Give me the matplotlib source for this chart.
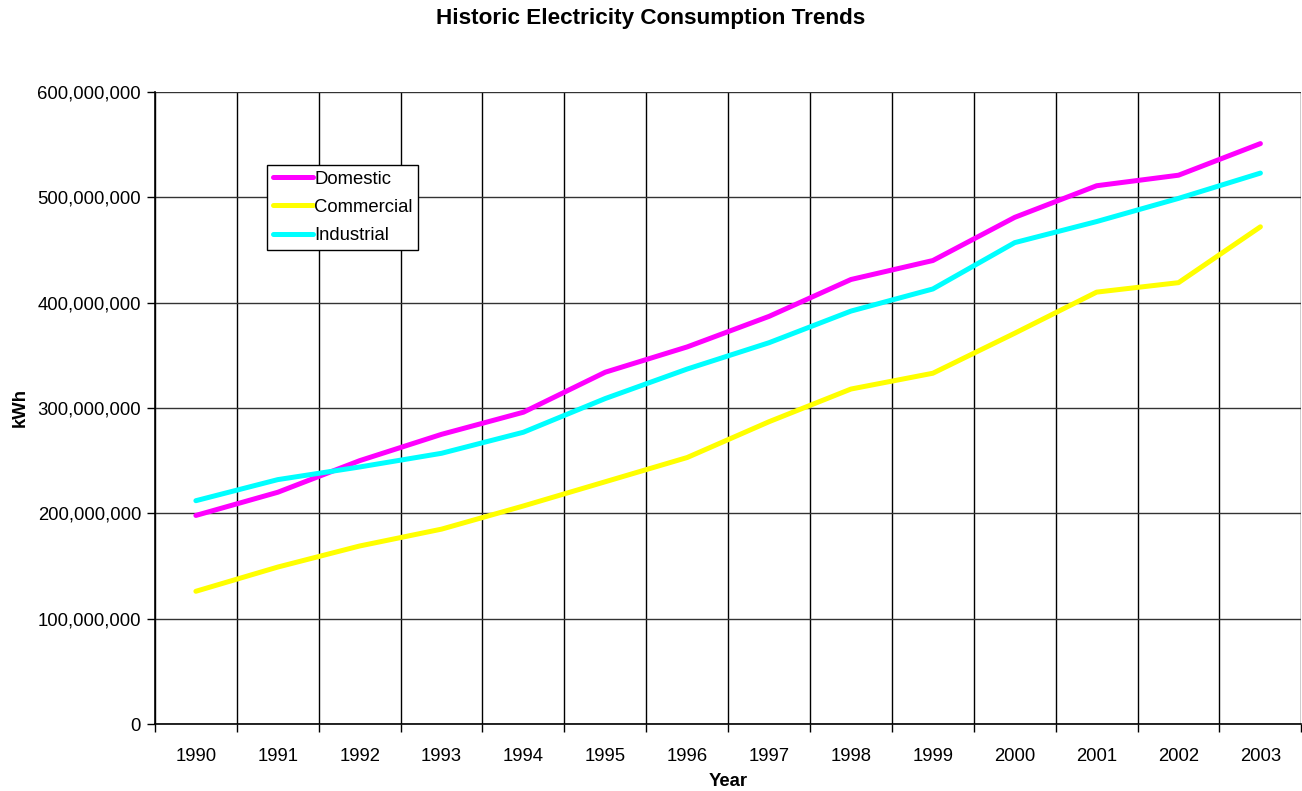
#!/usr/bin/env python3
import matplotlib
matplotlib.use("Agg")
import matplotlib.pyplot as plt
import numpy as np
from matplotlib.ticker import FuncFormatter, MultipleLocator

plt.rcParams["font.family"] = ["Liberation Sans", "DejaVu Sans"]

YEARS = ["1990", "1991", "1992", "1993", "1994", "1995", "1996",
         "1997", "1998", "1999", "2000", "2001", "2002", "2003"]

# kWh
DOMESTIC = [198e6, 220e6, 250e6, 275e6, 296e6, 334e6, 358e6,
            387e6, 422e6, 440e6, 481e6, 511e6, 521e6, 551e6]
COMMERCIAL = [126e6, 149e6, 169e6, 185e6, 207e6, 230e6, 253e6,
              287e6, 318e6, 333e6, 371e6, 410e6, 419e6, 472e6]
INDUSTRIAL = [212e6, 232e6, 244e6, 257e6, 277e6, 309e6, 337e6,
              362e6, 392e6, 413e6, 457e6, 477e6, 499e6, 523e6]

SERIES = [("Domestic", DOMESTIC, "#FF00FF"),
          ("Commercial", COMMERCIAL, "#FFFF00"),
          ("Industrial", INDUSTRIAL, "#00FFFF")]

FS = 13.3


def main() -> None:
    fig = plt.figure(figsize=(13.02, 7.91), dpi=100)
    ax = fig.add_axes([0.119, 0.0847, 0.8805, 0.799])

    x = np.arange(len(YEARS))
    for name, vals, color in SERIES:
        ax.plot(x, vals, color=color, linewidth=3.6, label=name,
                solid_capstyle="round", solid_joinstyle="round", zorder=3)

    ax.set_xlim(-0.5, len(YEARS) - 0.5)
    ax.set_ylim(0, 600e6)

    # category ticks sit on the boundaries, labels in the middle
    ax.set_xticks(np.arange(len(YEARS) + 1) - 0.5)
    ax.set_xticklabels([])
    ax.set_xticks(x, minor=True)
    ax.set_xticklabels(YEARS, minor=True, fontsize=FS)
    ax.tick_params(axis="x", which="minor", length=0, pad=17)
    ax.tick_params(axis="x", which="major", length=6, width=1, direction="out")

    ax.yaxis.set_major_locator(MultipleLocator(100e6))
    ax.yaxis.set_major_formatter(FuncFormatter(lambda v, p: f"{v:,.0f}"))
    ax.tick_params(axis="y", length=6, width=1, direction="out", labelsize=FS, pad=4)

    ax.grid(True, axis="x", which="major", color="black", linewidth=1.0)
    ax.grid(True, axis="y", which="major", color="#333333", linewidth=1.0)
    ax.set_axisbelow(True)

    for s in ["top", "right"]:
        ax.spines[s].set_visible(False)
    for s in ["left", "bottom"]:
        ax.spines[s].set_color("black")
        ax.spines[s].set_linewidth(1.2)

    ax.set_ylabel("kWh", fontsize=FS, fontweight="bold", labelpad=6)
    ax.set_xlabel("Year", fontsize=FS, fontweight="bold", labelpad=6)
    fig.suptitle("Historic Electricity Consumption Trends", fontsize=16.2,
                 fontweight="bold", y=0.99)

    leg = ax.legend(loc="upper left", bbox_to_anchor=(0.098, 0.884), frameon=True,
                    fancybox=False, framealpha=1, edgecolor="black", fontsize=FS,
                    handlelength=2.15, handletextpad=0.1, borderpad=0.3,
                    labelspacing=0.6, borderaxespad=0)
    leg.get_frame().set_linewidth(1.0)

    fig.savefig("out.png", dpi=100)
    plt.close(fig)


if __name__ == "__main__":
    main()
